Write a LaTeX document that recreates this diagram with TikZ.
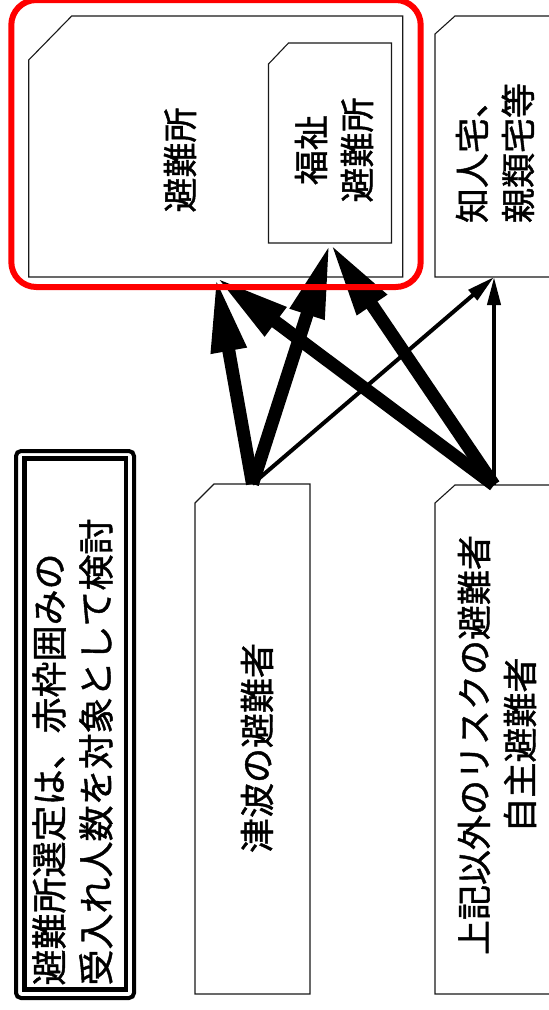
\documentclass[tikz,border=0pt]{standalone}
\usepackage{fontspec}
\setmainfont{Noto Sans CJK JP}[FakeBold=1.2]
\usetikzlibrary{arrows.meta}
\newcommand{\drawcutbox}[3]{%
  \draw[boxline] ([yshift=-#2pt]#1.north west) -- ([xshift=#3pt]#1.north west)
    -- (#1.north east) -- (#1.south east) -- (#1.south west) -- cycle;}
\begin{document}
\begin{tikzpicture}[x=1pt,y=-1pt,
  area/.style={inner sep=0pt, outer sep=0pt, draw=none},
  boxline/.style={draw=black!90, line width=1.1pt},
  lbl/.style={rotate=90, align=center, font=\fontsize{35}{46}\selectfont, inner sep=0pt},
  bigarrow/.style={line width=13pt, -{Triangle[length=75pt,width=33pt]}},
  smallarrow/.style={line width=4pt, -{Triangle[length=28pt,width=13pt]}},
  redframe/.style={draw=red, line width=6pt, rounded corners=25pt, inner sep=0pt, outer sep=0pt},
]
\useasboundingbox (0,0) rectangle (549,1010);

% boxes
\node[area, minimum width=374, minimum height=261] (shelter) at (215.7,146.5) {};
\node[area, minimum width=123, minimum height=200] (welfare) at (330,143) {};
\node[area, minimum width=118, minimum height=261] (friend) at (494,146.5) {};
\node[area, minimum width=115, minimum height=510] (tsunami) at (252.5,739) {};
\node[area, minimum width=118, minimum height=509] (other) at (494,739.5) {};
\drawcutbox{shelter}{44}{43}
\drawcutbox{welfare}{21}{20}
\drawcutbox{friend}{18}{20}
\drawcutbox{tsunami}{19}{19}
\drawcutbox{other}{18}{20}

% note box
\node[area, minimum width=118, minimum height=547, draw=black, line width=4pt, rounded corners=5pt] (note) at (75,724.5) {};
\draw[line width=4.5pt] ([xshift=8.3pt,yshift=-7.3pt]note.north west) rectangle ([xshift=-8pt,yshift=8.4pt]note.south east);

% labels
\node[lbl] (t1) at (180,160) {避難所};
\node[lbl] (t2) at (334,150) {福祉\\避難所};
\node[lbl] (t3) at (495,153) {知人宅、\\親類宅等};
\node[lbl] (t4) at (257,748) {津波の避難者};
\node[lbl] (t5) at (497,745) {上記以外のリスクの避難者\\自主避難者};
\node[lbl, align=left, font=\fontsize{36}{47}\selectfont] (t6) at (72.5,752) {避難所選定は、赤枠囲みの\\受入れ人数を対象として検討};

% arrows
\draw[bigarrow] (tsunami.north) -- (shelter.south);
\draw[bigarrow] (tsunami.north) -- (welfare.south);
\draw[smallarrow] (tsunami.north) -- (friend.south);
\draw[bigarrow] (other.north) -- (shelter.south);
\draw[bigarrow] (other.north) -- (welfare.south);
\draw[smallarrow] (other.north) -- (friend.south);

% red frame
\node[redframe, minimum width=409.4, minimum height=287] (frame) at (216,143.5) {};
\end{tikzpicture}
\end{document}
